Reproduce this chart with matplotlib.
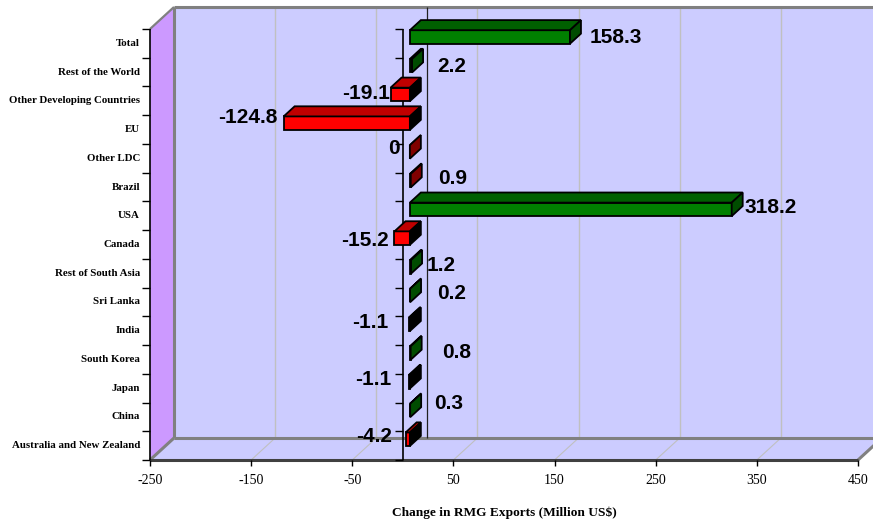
import matplotlib
matplotlib.use("Agg")
import matplotlib.pyplot as plt
from matplotlib.patches import Polygon

# ---------------- data ----------------
categories = ["Australia and New Zealand", "China", "Japan", "South Korea", "India",
              "Sri Lanka", "Rest of South Asia", "Canada", "USA", "Brazil",
              "Other LDC", "EU", "Other Developing Countries", "Rest of the World", "Total"]
values = [-4.2, 0.3, -1.1, 0.8, -1.1, 0.2, 1.2, -15.2, 318.2, 0.9, 0, -124.8, -19.1, 2.2, 158.3]
value_labels = ["-4.2", "0.3", "-1.1", "0.8", "-1.1", "0.2", "1.2", "-15.2", "318.2", "0.9",
                "0", "-124.8", "-19.1", "2.2", "158.3"]
x_ticks = [-250, -150, -50, 50, 150, 250, 350, 450]
x_title = "Change in RMG Exports (Million US$)"
dark_red_bars = ["Brazil", "Other LDC"]

# label placement (pixel offsets from bar end / category centre): (ha, dx, dy_down)
label_pos = [("right", -6, -11), ("left", 30.5, -15), ("right", -10, -11), ("left", 38, -9),
             ("right", -13, -10), ("left", 34, -10), ("left", 22.5, -10), ("right", 1, -6),
             ("left", 20, -10.7), ("left", 34, -11), ("right", -3, -12), ("right", 1, -13.6),
             ("right", 6, -9), ("left", 32, -8), ("left", 27, -7.5)]

# ---------------- styles ----------------
WALL = "#CCCCFF"
SIDE = "#CC99FF"
GRID = "#C0C0C0"
EDGE = "#808080"
W, H, DPI = 873, 524, 100

fig = plt.figure(figsize=(W / DPI, H / DPI), dpi=DPI)
ax = fig.add_axes([150 / W, (H - 460) / H, 708 / W, 431 / H])
ax.set_xlim(-250, 450)
ax.set_ylim(-0.5, 14.5)
ax.axis("off")

xmin, xmax = -250, 450
ymin, ymax = -0.5, 14.5


def off(dxp, dyp):
    """pixel offset (right, up) -> data offset"""
    x0, y0 = ax.transData.transform((0, 0))
    x1, y1 = ax.transData.inverted().transform((x0 + dxp, y0 + dyp))
    return x1, y1


bx, by = off(24, 22)  # depth of the plot box


def poly(pts, fc, ec="none", lw=0, z=1):
    p = Polygon(pts, closed=True, facecolor=fc, edgecolor=ec, linewidth=lw,
                clip_on=False, zorder=z, joinstyle="miter")
    ax.add_patch(p)


def line(xs, ys, c, lw, z=3):
    ax.plot(xs, ys, color=c, lw=lw, clip_on=False, zorder=z, solid_capstyle="butt")


# back wall
poly([(xmin + bx, ymin + by), (xmax + bx, ymin + by), (xmax + bx, ymax + by), (xmin + bx, ymax + by)], WALL, z=1)
# floor
poly([(xmin, ymin), (xmax, ymin), (xmax + bx, ymin + by), (xmin + bx, ymin + by)], WALL, z=1)
# side wall
poly([(xmin, ymin), (xmin + bx, ymin + by), (xmin + bx, ymax + by), (xmin, ymax)], SIDE, z=1)

# gridlines on back wall and floor
for t in x_ticks[1:-1]:
    line([t + bx, t + bx], [ymin + by, ymax + by], GRID, 1.0, z=2)
    line([t, t + bx], [ymin, ymin + by], GRID, 0.8, z=2)

# wall / floor edges
line([xmin + bx, xmax + bx], [ymax + by, ymax + by], EDGE, 2.2, z=3)
line([xmin + bx, xmin + bx], [ymin + by, ymax + by], EDGE, 2.2, z=3)
line([xmin + bx, xmax + bx], [ymin + by, ymin + by], EDGE, 2.2, z=3)
line([xmin, xmin + bx], [ymax, ymax + by], EDGE, 1.6, z=3)
line([xmin, xmin + bx], [ymin, ymin + by], EDGE, 2.2, z=3)
line([xmax, xmax + bx], [ymin, ymin + by], EDGE, 2.2, z=3)
line([xmin, xmax], [ymin, ymin], "#404040", 2.2, z=3)

# zero line on back wall
line([bx, bx], [ymin + by, ymax + by], "#202020", 0.9, z=3)

# axes lines with ticks
tx, _ = off(8, 0)
_, ty = off(0, 6)
line([xmin, xmin], [ymin, ymax], "black", 1.2, z=4)
line([0, 0], [ymin, ymax], "black", 1.2, z=4)
for k in range(len(categories) + 1):
    yk = ymin + k
    line([xmin - tx, xmin], [yk, yk], "black", 1.0, z=4)
    line([0 - tx, 0], [yk, yk], "black", 1.0, z=4)
for t in x_ticks:
    line([t, t], [ymin, ymin - ty], "black", 1.0, z=4)

# ---------------- bars ----------------
fx, fy = off(7, 6.4)
kx, ky = off(18, 16.5)
h = 0.47
for i, (cat, v) in enumerate(zip(categories, values)):
    lo, hi = min(0, v), max(0, v)
    if cat in dark_red_bars:
        c_front, c_top, c_side = "#FF0000", "#C00000", "#800000"
    elif v > 0:
        c_front, c_top, c_side = "#008000", "#006000", "#004C00"
    else:
        c_front, c_top, c_side = "#FF0000", "#C00000", "#000000"
    y0, y1 = i - h / 2, i + h / 2
    z = 5 + (len(categories) - i) * 0.01
    poly([(lo + fx, y0 + fy), (hi + fx, y0 + fy), (hi + fx, y1 + fy), (lo + fx, y1 + fy)],
         c_front, "black", 1.3, z)
    poly([(lo + fx, y1 + fy), (hi + fx, y1 + fy), (hi + kx, y1 + ky), (lo + kx, y1 + ky)],
         c_top, "black", 1.3, z)
    poly([(hi + fx, y0 + fy), (hi + kx, y0 + ky), (hi + kx, y1 + ky), (hi + fx, y1 + fy)],
         c_side, "black", 1.3, z)

# ---------------- text ----------------
px2pt = 72 / DPI
for i, (lab, (ha, dx, dy)) in enumerate(zip(value_labels, label_pos)):
    ax.annotate(lab, xy=(values[i], i), xytext=(dx * px2pt, -(dy + 7.5) * px2pt),
                textcoords="offset points", ha=ha, va="baseline",
                fontsize=15, fontweight="bold", family="Liberation Sans",
                annotation_clip=False, zorder=8)

for i, cat in enumerate(categories):
    ax.annotate(cat, xy=(xmin, i), xytext=(-10 * px2pt, 0), textcoords="offset points",
                ha="right", va="center", fontsize=7.8, fontweight="bold",
                family="Liberation Serif", annotation_clip=False)

for t in x_ticks:
    ax.annotate(str(t), xy=(t, ymin), xytext=(0, -21 * px2pt), textcoords="offset points",
                ha="center", va="center", fontsize=10, family="Liberation Serif",
                annotation_clip=False)

fig.text(504 / W, (H - 513) / H, x_title, ha="center", va="center", fontsize=9.6,
         fontweight="bold", family="Liberation Serif")

fig.savefig("out.png", dpi=DPI)
